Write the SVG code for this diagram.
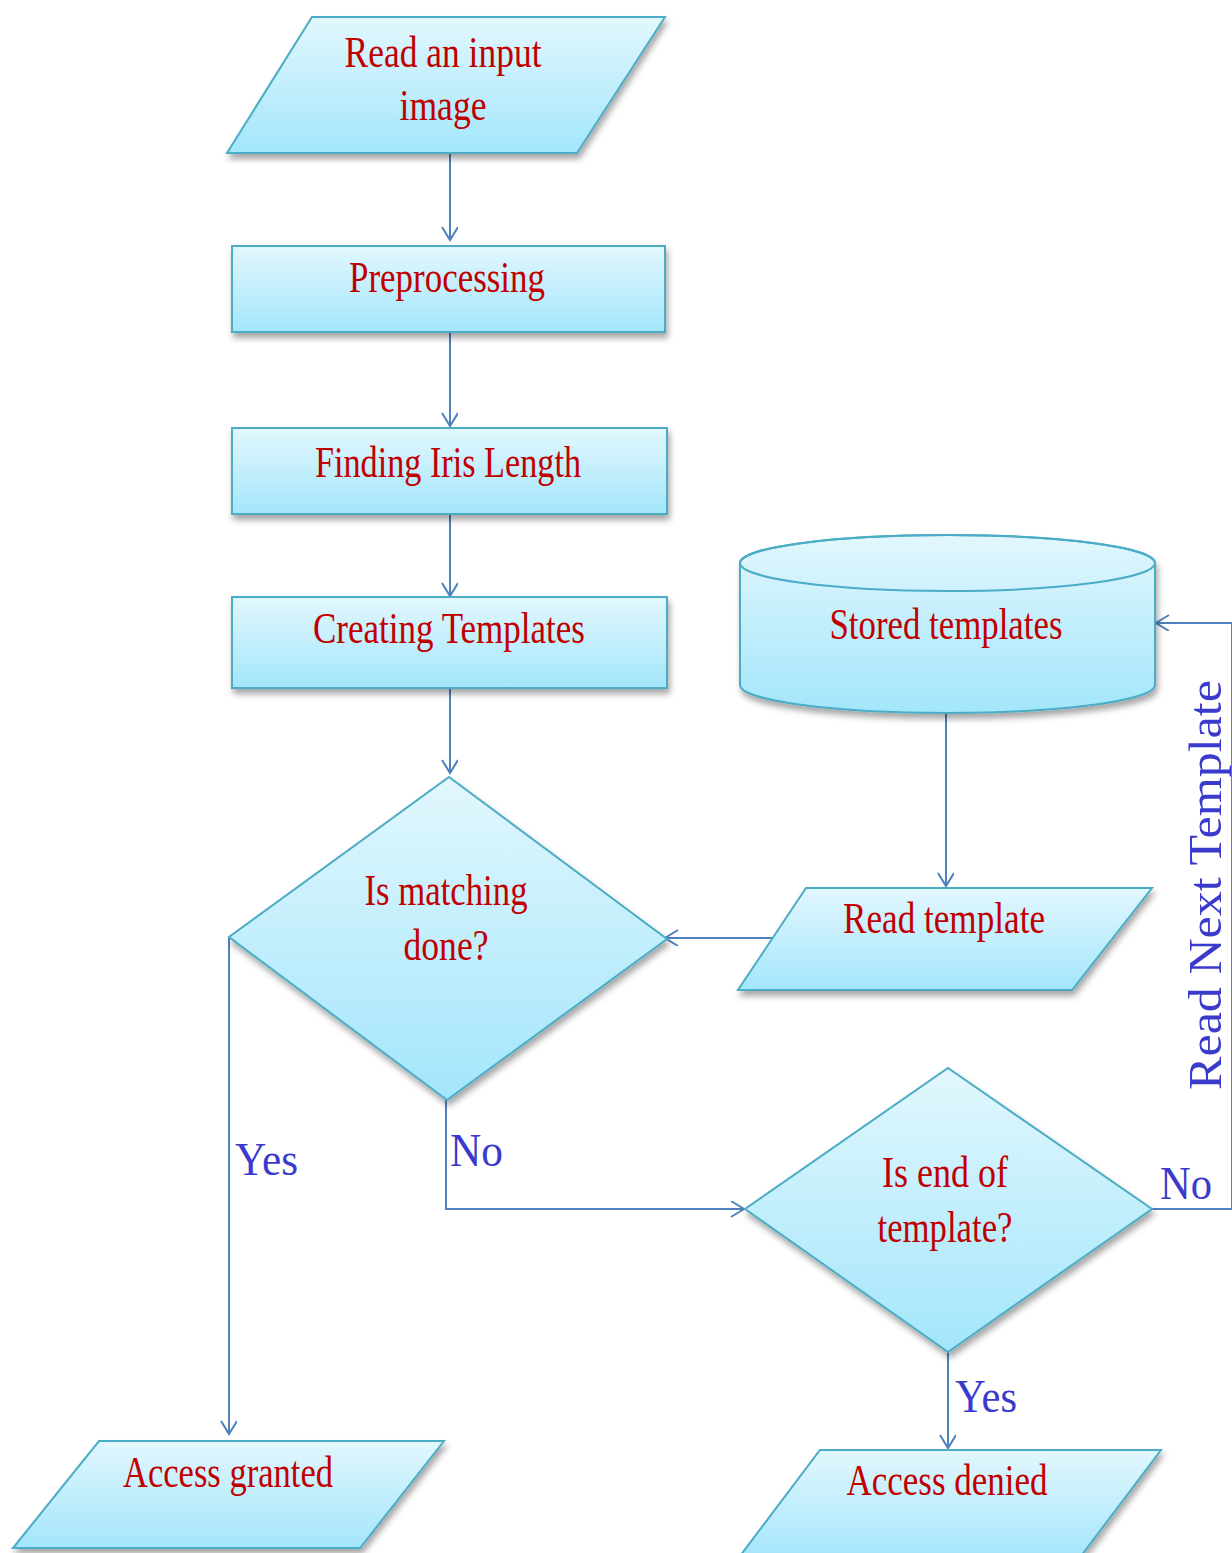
<svg xmlns="http://www.w3.org/2000/svg" width="1232" height="1553" viewBox="0 0 1232 1553">
<defs>
<linearGradient id="fillg" x1="0" y1="0" x2="0" y2="1">
<stop offset="0" stop-color="#e2f7fd"/>
<stop offset="1" stop-color="#a3e6fb"/>
</linearGradient>
<filter id="sh" x="-10%" y="-10%" width="125%" height="130%">
<feDropShadow dx="2" dy="5" stdDeviation="3" flood-color="#000" flood-opacity="0.35"/>
</filter>
<marker id="arr" markerWidth="20" markerHeight="20" refX="14" refY="8" orient="auto" markerUnits="userSpaceOnUse">
<path d="M1,0 L14,8 L1,16" fill="none" stroke="#4f81bd" stroke-width="2"/>
</marker>
</defs>
<style>
.shape{fill:url(#fillg);stroke:#4bacc6;stroke-width:2;filter:url(#sh)}
.t{font-family:"Liberation Serif",serif;font-size:44px;fill:#c00000;text-anchor:middle}
.lbl{font-family:"Liberation Serif",serif;font-size:46px;fill:#3a3acc}
.c{fill:none;stroke:#4f81bd;stroke-width:2}
</style>
<rect width="1232" height="1553" fill="#ffffff"/>

<g id="connectors">
<line class="c" x1="450" y1="153" x2="450" y2="240" marker-end="url(#arr)"/>
<line class="c" x1="450" y1="332" x2="450" y2="426" marker-end="url(#arr)"/>
<line class="c" x1="450" y1="514" x2="450" y2="596" marker-end="url(#arr)"/>
<line class="c" x1="450" y1="688" x2="450" y2="773" marker-end="url(#arr)"/>
<line class="c" x1="946" y1="713" x2="946" y2="886" marker-end="url(#arr)"/>
<line class="c" x1="780" y1="938" x2="665" y2="938" marker-end="url(#arr)"/>
<polyline class="c" points="229,937 229,1434" marker-end="url(#arr)"/>
<polyline class="c" points="446,1100 446,1209 744,1209" marker-end="url(#arr)"/>
<polyline class="c" points="1152,1209 1232,1209 1232,623 1156,623" marker-end="url(#arr)"/>
<line class="c" x1="948" y1="1352" x2="948" y2="1448" marker-end="url(#arr)"/>
<text class="lbl" x="235" y="1175" textLength="63" lengthAdjust="spacingAndGlyphs">Yes</text>
<text class="lbl" x="450" y="1166" textLength="53" lengthAdjust="spacingAndGlyphs">No</text>
<text class="lbl" x="1160" y="1199" textLength="52" lengthAdjust="spacingAndGlyphs">No</text>
<text class="lbl" x="955" y="1412" textLength="62" lengthAdjust="spacingAndGlyphs">Yes</text>
<text class="lbl" transform="translate(1221,1090) rotate(-90)" x="0" y="0" textLength="410" lengthAdjust="spacingAndGlyphs">Read Next Template</text>
</g>

<g id="read-input">
<polygon class="shape" points="312,17 665,17 577,153 227,153"/>
<text class="t" x="443" y="67" textLength="197" lengthAdjust="spacingAndGlyphs">Read an input</text>
<text class="t" x="443" y="120" textLength="87" lengthAdjust="spacingAndGlyphs">image</text>
</g>

<g id="preprocessing">
<rect class="shape" x="232" y="246" width="433" height="86"/>
<text class="t" x="447" y="292" textLength="196" lengthAdjust="spacingAndGlyphs">Preprocessing</text>
</g>

<g id="finding-iris">
<rect class="shape" x="232" y="428" width="435" height="86"/>
<text class="t" x="448" y="477" textLength="266" lengthAdjust="spacingAndGlyphs">Finding Iris Length</text>
</g>

<g id="creating-templates">
<rect class="shape" x="232" y="597" width="435" height="91"/>
<text class="t" x="449" y="643" textLength="272" lengthAdjust="spacingAndGlyphs">Creating Templates</text>
</g>

<g id="matching-done">
<polygon class="shape" points="449,777 667,939 447,1100 229,937"/>
<text class="t" x="446" y="905" textLength="163" lengthAdjust="spacingAndGlyphs">Is matching</text>
<text class="t" x="446" y="960" textLength="85" lengthAdjust="spacingAndGlyphs">done?</text>
</g>

<g id="stored-templates">
<path class="shape" d="M740,563 A207.5,28 0 0 1 1155,563 L1155,685 A207.5,28 0 0 1 740,685 Z"/>
<ellipse cx="947.5" cy="563" rx="207.5" ry="28" fill="none" stroke="#4bacc6" stroke-width="2"/>
<text class="t" x="946" y="639" textLength="233" lengthAdjust="spacingAndGlyphs">Stored templates</text>
</g>

<g id="read-template">
<polygon class="shape" points="806,888 1152,888 1072,990 738,990"/>
<text class="t" x="944" y="933" textLength="202" lengthAdjust="spacingAndGlyphs">Read template</text>
</g>

<g id="end-of-template">
<polygon class="shape" points="948,1068 1152,1209 948,1352 745,1209"/>
<text class="t" x="945" y="1187" textLength="126" lengthAdjust="spacingAndGlyphs">Is end of</text>
<text class="t" x="945" y="1242" textLength="135" lengthAdjust="spacingAndGlyphs">template?</text>
</g>

<g id="access-granted">
<polygon class="shape" points="99,1441 444,1441 360,1548 13,1548"/>
<text class="t" x="228" y="1487" textLength="210" lengthAdjust="spacingAndGlyphs">Access granted</text>
</g>

<g id="access-denied">
<polygon class="shape" points="820,1450 1161,1450 1078,1560 737,1560"/>
<text class="t" x="947" y="1495" textLength="201" lengthAdjust="spacingAndGlyphs">Access denied</text>
</g>
</svg>
